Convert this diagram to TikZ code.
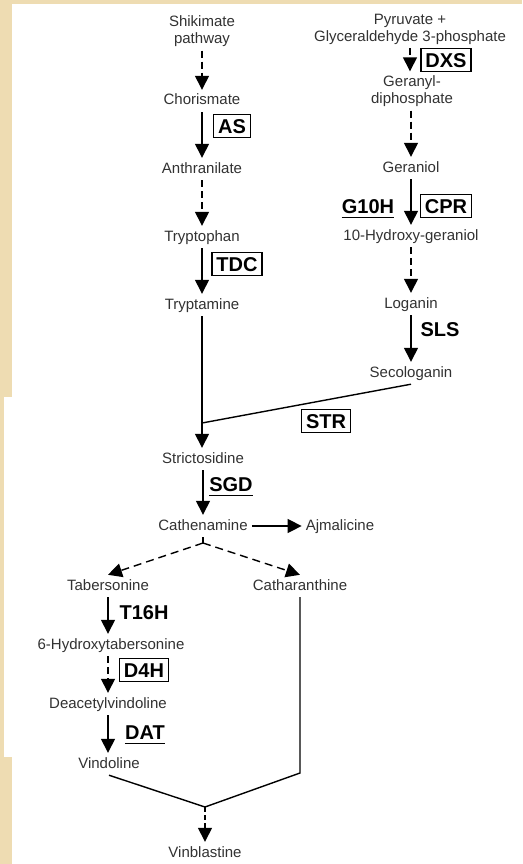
\documentclass[tikz,border=0pt]{standalone}
\usepackage{fontspec}
\setmainfont{Liberation Sans}
\usepackage{tikz}
\usetikzlibrary{arrows.meta, positioning, calc}
\definecolor{parchment}{RGB}{238,220,178}
\definecolor{inkgray}{RGB}{50,50,50}

\begin{document}
\begin{tikzpicture}[x=1pt, y=-1pt,
    cpd/.style={font=\fontsize{15}{17.5}\selectfont, text=inkgray, inner sep=4pt, text height=11pt, text depth=3pt},
    cpdtwo/.style={font=\fontsize{15}{17}\selectfont, text=inkgray, inner sep=4pt, align=center},
    enz/.style={font=\fontsize{20}{22}\selectfont\bfseries, text=black, text height=14.5pt, text depth=0pt},
    enzbox/.style={enz, draw, line width=1.3pt, inner xsep=4.5pt, inner ysep=4.5pt},
    enzul/.style={enz, inner xsep=0pt, inner ysep=4pt},
    uline/.style={line width=1.6pt},
    link/.style={line width=1.4pt},
    reac/.style={line width=1.4pt, -{Triangle[length=14pt, width=14pt]}},
    dreac/.style={reac, dash pattern=on 7pt off 4pt},
]
    % Hintergrund
    \fill[parchment] (0,0) rectangle (522,864);
    \fill[white] (12,4) rectangle (522,864);
    \fill[white] (4,397) rectangle (12,757);

    % Indol-Zweig
    \node[cpdtwo] (shik) at (202,31) {Shikimate\\pathway};
    \node[cpd] (chor) at (202,101) {Chorismate};
    \node[cpd] (anth) at (202,169) {Anthranilate};
    \node[cpd] (trp) at (202,237) {Tryptophan};
    \node[cpd] (tryp) at (202,305) {Tryptamine};
    \node[enzbox] (as) at (232,126) {AS};
    \node[enzbox] (tdc) at (237,264) {TDC};

    % Terpenoid-Zweig
    \node[cpdtwo] (pyr) at (410,29) {Pyruvate +\\Glyceraldehyde 3-phosphate};
    \node[cpdtwo] (gpp) at (412,91) {Geranyl-\\diphosphate};
    \node[cpd] (ger) at (411,168) {Geraniol};
    \node[cpd] (hger) at (411,236) {10-Hydroxy-geraniol};
    \node[cpd] (log) at (411,304) {Loganin};
    \node[cpd] (seco) at (411,373) {Secologanin};
    \node[enzbox] (dxs) at (446,60) {DXS};
    \node[enzul] (g10h) at (368,206) {G10H};
    \node[enzbox] (cpr) at (446,206) {CPR};
    \node[enz] (sls) at (440,329) {SLS};

    % Kopplung
    \node[cpd] (str) at (203,459) {Strictosidine};
    \node[cpd] (cat) at (203,526) {Cathenamine};
    \node[cpd] (ajm) at (340,526) {Ajmalicine};
    \node[enzbox] (strbox) at (326,421) {STR};
    \node[enzul] (sgd) at (231,484) {SGD};

    % Vindolin-Zweig
    \node[cpd] (tab) at (108,586) {Tabersonine};
    \node[cpd] (cath) at (300,586) {Catharanthine};
    \node[cpd] (htab) at (111,645) {6-Hydroxytabersonine};
    \node[cpd] (dav) at (108,704) {Deacetylvindoline};
    \node[cpd] (vind) at (109,764) {Vindoline};
    \node[cpd] (vinb) at (205,853) {Vinblastine};
    \node[enz] (t16h) at (144,612) {T16H};
    \node[enzbox] (d4h) at (144,670) {D4H};
    \node[enzul] (dat) at (145,732) {DAT};

    \coordinate (strjoin) at (202,423);
    \coordinate (catsplit) at (203,543);
    \coordinate (cathbend) at (300,773);
    \coordinate (vinjoin) at (205,807);

    % Pfeile links
    \draw[dreac] (shik.south) -- (shik.south |- chor.north);
    \draw[reac] (chor.south) -- (anth.north);
    \draw[dreac] (anth.south) -- (trp.north);
    \draw[reac] (trp.south) -- (tryp.north);

    % Pfeile rechts
    \draw[dreac] (pyr.south) -- (pyr.south |- gpp.north);
    \draw[dreac] (gpp.south -| ger.north) -- (ger.north);
    \draw[reac] (ger.south) -- (hger.north);
    \draw[dreac] (hger.south) -- (log.north);
    \draw[reac] (log.south) -- (seco.north);

    % STR, SGD
    \draw[reac] (tryp.south) -- (tryp.south |- str.north);
    \draw[link] (seco.south) -- (strjoin);
    \draw[reac] (str.south) -- (cat.north);
    \draw[reac] (cat.east) -- (ajm.west);
    \draw[link] (cat.south) -- (catsplit);
    \draw[reac, dash pattern=on 8pt off 5pt] (catsplit) -- (tab.north);
    \draw[reac, dash pattern=on 8pt off 5pt] (catsplit) -- (cath.north);

    % Vindolin
    \draw[reac] (tab.south) -- (tab.south |- htab.north);
    \draw[dreac] (tab.south |- htab.south) -- (tab.south |- dav.north);
    \draw[reac] (tab.south |- dav.south) -- (tab.south |- vind.north);

    % Dimerisierung
    \draw[link] (vind.south) -- (vinjoin);
    \draw[link] (cath.south) -- (cathbend) -- (vinjoin);
    \draw[reac, dash pattern=on 5pt off 3pt] (vinjoin) -- (vinb.north);

    % Unterstreichungen
    \draw[uline] (g10h.south west) -- (g10h.south east);
    \draw[uline] (sgd.south west) -- (sgd.south east);
    \draw[uline] (dat.south west) -- (dat.south east);
\end{tikzpicture}
\end{document}
